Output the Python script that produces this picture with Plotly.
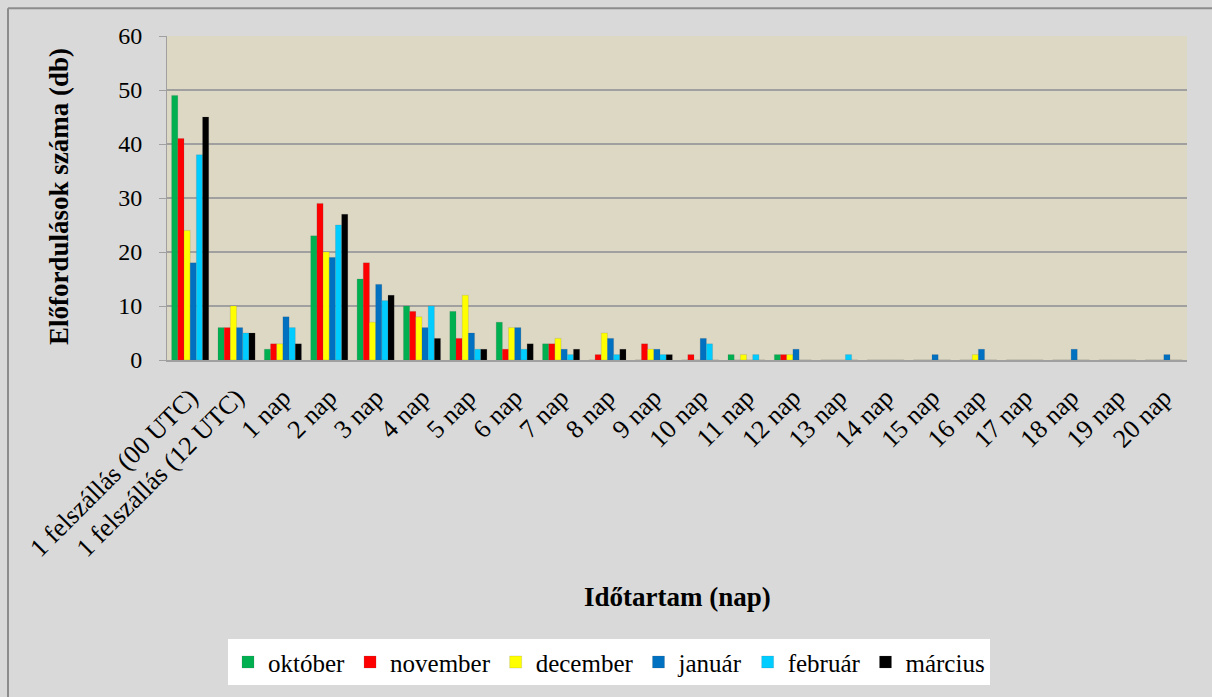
import plotly.graph_objects as go

categories = ["1 felszállás (00 UTC)", "1 felszállás (12 UTC)", "1 nap", "2 nap", "3 nap",
              "4 nap", "5 nap", "6 nap", "7 nap", "8 nap", "9 nap", "10 nap", "11 nap",
              "12 nap", "13 nap", "14 nap", "15 nap", "16 nap", "17 nap", "18 nap",
              "19 nap", "20 nap"]

oktober  = [49, 6, 2, 23, 15, 10, 9, 7, 3, 0, 0, 0, 1, 1, 0, 0, 0, 0, 0, 0, 0, 0]
november = [41, 6, 3, 29, 18, 9, 4, 2, 3, 1, 3, 1, 0, 1, 0, 0, 0, 0, 0, 0, 0, 0]
december = [24, 10, 3, 20, 7, 8, 12, 6, 4, 5, 2, 0, 1, 1, 0, 0, 0, 1, 0, 0, 0, 0]
januar   = [18, 6, 8, 19, 14, 6, 5, 6, 2, 4, 2, 4, 0, 2, 0, 0, 1, 2, 0, 2, 0, 1]
februar  = [38, 5, 6, 25, 11, 10, 2, 2, 1, 1, 1, 3, 1, 0, 1, 0, 0, 0, 0, 0, 0, 0]
marcius  = [45, 5, 3, 27, 12, 4, 2, 3, 2, 2, 1, 0, 0, 0, 0, 0, 0, 0, 0, 0, 0, 0]

series = [
    ("október", oktober, "#00B050"),
    ("november", november, "#FF0000"),
    ("december", december, "#FFFF00"),
    ("január", januar, "#0070C0"),
    ("február", februar, "#00CCFF"),
    ("március", marcius, "#000000"),
]

FONT = "Liberation Serif"

fig = go.Figure()
for name, vals, color in series:
    fig.add_trace(go.Bar(
        x=categories, y=vals, name=name,
        marker=dict(color=color, line=dict(color="rgba(90,90,90,0.35)", width=0.5)),
    ))

W, H = 1212, 697
L, R, T, B = 167, 25, 36, 335
pw, ph = W - L - R, H - T - B

def px_x(x):
    return (x - L) / pw

def px_y(y):
    return (H - B - y) / ph

fig.update_layout(
    width=W, height=H,
    margin=dict(l=L, r=R, t=T, b=B),
    paper_bgcolor="#D9D9D9",
    plot_bgcolor="#DDD8C4",
    barmode="group",
    bargap=0.2,
    bargroupgap=0.0,
    font=dict(family=FONT, size=24, color="#000000"),
    showlegend=True,
    legend=dict(
        orientation="h",
        x=px_x(609), xanchor="center",
        y=px_y(643), yanchor="top",
        bgcolor="#FFFFFF",
        font=dict(family=FONT, size=25, color="#000000"),
        itemwidth=30,
        traceorder="normal",
    ),
    xaxis=dict(
        type="category",
        tickangle=-45,
        tickfont=dict(family=FONT, size=26),
        ticklabelstandoff=10,
        showgrid=False,
        showline=True, linecolor="#A0A0A0", linewidth=2,
        ticks="",
    ),
    yaxis=dict(
        range=[0, 60],
        dtick=10,
        tickfont=dict(family=FONT, size=24),
        ticklabelstandoff=12,
        showgrid=True, gridcolor="#A0A0A0", gridwidth=2,
        showline=True, linecolor="#A0A0A0", linewidth=1,
        ticks="outside", ticklen=7, tickcolor="#A0A0A0",
        zeroline=False,
    ),
    annotations=[
        dict(text="<b>Előfordulások száma (db)</b>", xref="paper", yref="paper",
             x=px_x(59), y=px_y(198), textangle=-90, showarrow=False,
             xanchor="center", yanchor="middle", font=dict(family=FONT, size=27)),
        dict(text="<b>Időtartam (nap)</b>", xref="paper", yref="paper",
             x=px_x(677), y=px_y(600), showarrow=False,
             xanchor="center", yanchor="middle", font=dict(family=FONT, size=27)),
    ],
    shapes=[
        dict(type="line", xref="paper", yref="paper",
             x0=px_x(8), x1=px_x(8), y0=px_y(8), y1=px_y(H + 5),
             line=dict(color="#8C8C8C", width=2)),
        dict(type="line", xref="paper", yref="paper",
             x0=px_x(8), x1=px_x(W + 5), y0=px_y(8), y1=px_y(8),
             line=dict(color="#8C8C8C", width=2)),
    ],
)

fig.write_html("out.html")
